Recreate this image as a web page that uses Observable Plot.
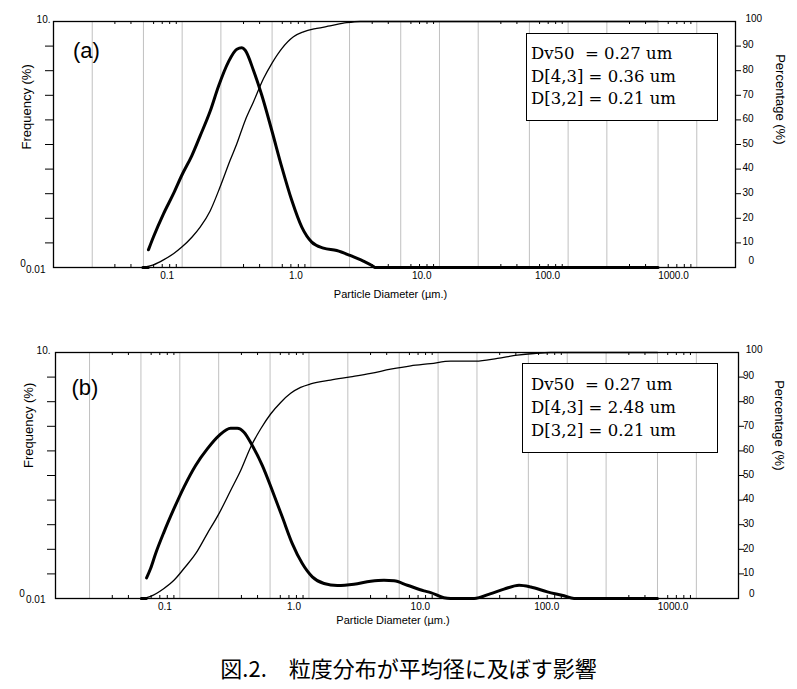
<!DOCTYPE html>
<html>
<head>
<meta charset="utf-8">
<script src="https://cdn.jsdelivr.net/npm/d3@7"></script>
<script src="https://cdn.jsdelivr.net/npm/@observablehq/plot@0.6"></script>
<style>
  body { margin: 0; background: #fff; }
  #fig { position: relative; width: 797px; height: 689px; overflow: hidden; font-family: "Liberation Sans", Arial, sans-serif; }
  .panel { position: absolute; left: 0; }
  .stats { position: absolute; box-sizing: border-box; border: 1px solid #000; background: #fff;
           font-family: "DejaVu Serif", serif; font-size: 16.5px; color: #000; white-space: pre; }
  #caption { position: absolute; width: 797px; text-align: center; white-space: pre; word-spacing: 6px;
             font-family: "Noto Sans CJK JP", sans-serif; font-size: 22px; line-height: 22px; color: #000; }
</style>
</head>
<body>
<div id="fig"></div>
<script>
// ---------- data ----------
// panel (a): frequency curve (%), particle diameter in µm; null = break in the line
const freqA_d = [0.0495, 0.0545, 0.0546, 0.0547, 0.0599, 0.0716, 0.0856, 0.0994, 0.119, 0.138, 0.165, 0.192, 0.229, 0.266, 0.291, 0.309, 0.358, 0.416, 0.497, 0.595, 0.711, 0.851, 1.017, 1.254, 1.59, 2.02, 2.56, 3.07, 3.15, 500];
const freqA_v = [0, 0, null, 0.72, 1.25, 2.18, 3.0, 3.75, 4.55, 5.35, 6.35, 7.38, 8.36, 8.87, 8.93, 8.83, 8.02, 7.0, 5.58, 4.08, 2.73, 1.64, 1.03, 0.79, 0.69, 0.49, 0.26, 0.04, 0, 0];
// panel (a): cumulative percentage (%)
const cumA_d = [0.0495, 0.0599, 0.0716, 0.0856, 0.0994, 0.119, 0.138, 0.165, 0.197, 0.236, 0.266, 0.309, 0.358, 0.429, 0.497, 0.595, 0.733, 0.876, 1.112, 1.41, 1.90, 2.42, 500];
const cumA_v = [0, 1.1, 3.1, 5.6, 8.3, 12.3, 16.4, 23.0, 32.7, 43.6, 50.3, 59.8, 67.3, 76.8, 82.9, 89.0, 93.8, 95.8, 97.2, 98.2, 99.5, 100, 100];

// panel (b): frequency curve (%)
const freqB_d = [0.0503, 0.0550, 0.0552, 0.0553, 0.0594, 0.0649, 0.0754, 0.0901, 0.1077, 0.1326, 0.1632, 0.201, 0.2475, 0.2787, 0.314, 0.364, 0.435, 0.520, 0.622, 0.743, 0.888, 1.062, 1.308, 1.659, 2.23, 3.01, 3.81, 4.56, 5.78, 7.78, 8.76, 11.1, 12.5, 19.0, 25.6, 32.4, 42.4, 52.2, 70.2, 94.5, 113, 500];
const freqB_v = [0, 0, null, 0.84, 1.22, 1.82, 2.70, 3.65, 4.53, 5.41, 6.08, 6.62, 6.92, 6.92, 6.76, 6.22, 5.41, 4.39, 3.31, 2.23, 1.42, 0.88, 0.61, 0.53, 0.58, 0.70, 0.74, 0.72, 0.54, 0.31, 0.24, 0.03, 0, 0, 0.2, 0.38, 0.54, 0.47, 0.27, 0.11, 0, 0];
// panel (b): cumulative percentage (%)
const cumB_d = [0.0503, 0.0594, 0.0754, 0.0901, 0.1077, 0.1326, 0.1632, 0.201, 0.2475, 0.296, 0.3535, 0.4225, 0.505, 0.604, 0.722, 0.862, 1.031, 1.47, 2.10, 3.01, 4.29, 6.14, 8.76, 12.5, 19.6, 28.8, 41.1, 55.3, 74.5, 500];
const cumB_v = [0, 0.9, 4.1, 7.4, 12.2, 18.2, 26.4, 34.5, 43.9, 52.0, 61.5, 68.9, 75.0, 79.7, 83.4, 85.8, 87.2, 88.8, 90.1, 91.5, 93.2, 94.6, 95.5, 96.5, 96.5, 97.6, 98.9, 99.6, 100, 100];

// axes
const gridDiam = [0.02, 0.05, 0.1, 0.2, 0.5, 1, 2, 5, 10, 20, 50, 100, 200, 500, 1000];
const minorDiam = [0.03, 0.04, 0.06, 0.07, 0.08, 0.09, 0.3, 0.4, 0.6, 0.7, 0.8, 0.9, 3, 4, 6, 7, 8, 9, 30, 40, 60, 70, 80, 90, 300, 400, 600, 700, 800, 900];
const xTickVals = [0.01, 0.1, 1, 10, 100, 1000];
const xTickLabels = ["0.01", "0.1", "1.0", "10.0", "100.0", "1000.0"];
const freqTicks = [1, 2, 3, 4, 5, 6, 7, 8, 9];
const freqEndLabels = ["0", "10."];
const pctTicks = [10, 20, 30, 40, 50, 60, 70, 80, 90];
const pctEndLabels = ["0", "100"];

// texts
const panelLabels = ["(a)", "(b)"];
const xTitle = "Particle Diameter (µm.)";
const yTitleLeft = "Frequency (%)";
const yTitleRight = "Percentage (%)";
const statNames = ["Dv50 ", "D[4,3]", "D[3,2]"];
const statsA = [0.27, 0.36, 0.21];
const statsB = [0.27, 2.48, 0.21];
const statUnit = "um";
const caption = "図.2.  粒度分布が平均径に及ぼす影響";

// ---------- drawing ----------
const W = 797, H = 310;
const fig = document.getElementById("fig");

function rows(ds, vs) { return ds.map((d, i) => ({ d, v: vs[i] })); }

function panel(cfg) {
  const plotH = H - cfg.mt - cfg.mb;
  const freq = rows(cfg.freqD, cfg.freqV);
  const cum = rows(cfg.cumD, cfg.cumV);
  const svg = Plot.plot({
    width: W, height: H,
    marginTop: cfg.mt, marginBottom: cfg.mb, marginLeft: cfg.ml, marginRight: cfg.mr,
    style: { fontFamily: "'Liberation Sans', Arial, sans-serif", fontSize: "10px", color: "#000", background: "transparent", overflow: "visible" },
    x: { type: "log", domain: cfg.domain, axis: null },
    y: { domain: [0, 10], axis: null },
    marks: [
      Plot.ruleX(gridDiam, { x: d => d, stroke: "#c0c0c0", strokeWidth: 1 }),
      Plot.tickX(minorDiam, { x: d => d, insetTop: plotH - 3, stroke: "#000" }),
      Plot.tickX(minorDiam, { x: d => d, insetBottom: plotH - 3, stroke: "#000" }),
      Plot.line(cum, { x: "d", y: r => (r.v == null ? NaN : r.v / 10), stroke: "#000", strokeWidth: 1.3, curve: "monotone-x" }),
      Plot.line(freq, { x: "d", y: r => (r.v == null ? NaN : r.v), stroke: "#000", strokeWidth: 3, curve: "monotone-x" }),
      Plot.frame({ stroke: "#000", strokeWidth: 1.3 }),
      // left ticks (no labels) and end labels
      Plot.axisY({ anchor: "left", ticks: freqTicks, tickSize: 8, tickFormat: () => "", label: null }),
      Plot.text([freqEndLabels[1]], { frameAnchor: "top-left", text: d => d, textAnchor: "end", lineAnchor: "middle", dx: cfg.topLbl[0], dy: cfg.topLbl[1], fontSize: 10 }),
      Plot.text([freqEndLabels[0]], { frameAnchor: "bottom-left", text: d => d, textAnchor: "middle", lineAnchor: "middle", dx: cfg.zeroLbl[0], dy: cfg.zeroLbl[1], fontSize: 10 }),
      // right ticks + labels
      Plot.axisY({ anchor: "right", ticks: pctTicks.map(p => p / 10), tickSize: 5, tickFormat: () => "", label: null }),
      Plot.text(pctTicks, { y: p => p / 10, frameAnchor: "right", text: p => String(p), textAnchor: "start", lineAnchor: "middle", dx: cfg.pctDx, dy: -1, fontSize: 10 }),
      Plot.text([pctEndLabels[1]], { frameAnchor: "top-right", text: d => d, textAnchor: "start", lineAnchor: "middle", dx: cfg.p100[0], dy: cfg.p100[1], fontSize: 10 }),
      Plot.text([pctEndLabels[0]], { frameAnchor: "bottom-right", text: d => d, textAnchor: "start", lineAnchor: "middle", dx: cfg.p0[0], dy: cfg.p0[1], fontSize: 10 }),
      // x tick labels (first one sits a bit higher in the reference)
      Plot.text(xTickVals.slice(1), { x: d => d, frameAnchor: "bottom", text: (d, i) => xTickLabels[i + 1], textAnchor: "end", lineAnchor: "middle", dx: -8, dy: 8, fontSize: 10 }),
      Plot.text([xTickLabels[0]], { frameAnchor: "bottom-left", text: d => d, textAnchor: "end", lineAnchor: "middle", dx: cfg.first[0], dy: cfg.first[1], fontSize: 10 }),
      // titles
      Plot.text([xTitle], { frameAnchor: "bottom", text: d => d, lineAnchor: "middle", dx: cfg.xTitle[0], dy: cfg.xTitle[1], fontSize: 11 }),
      Plot.text([yTitleLeft], { frameAnchor: "left", text: d => d, rotate: -90, lineAnchor: "middle", dx: cfg.yLeft[0], dy: cfg.yLeft[1], fontSize: 13 }),
      Plot.text([yTitleRight], { frameAnchor: "right", text: d => d, rotate: 90, lineAnchor: "middle", dx: cfg.yRight[0], dy: cfg.yRight[1], fontSize: 13 }),
      Plot.text([cfg.label], { frameAnchor: "top-left", text: d => d, textAnchor: "start", lineAnchor: "middle", dx: cfg.lbl[0], dy: cfg.lbl[1], fontSize: 22 })
    ]
  });
  svg.classList.add("panel");
  svg.style.top = cfg.top + "px";
  fig.appendChild(svg);

  const box = document.createElement("div");
  box.className = "stats";
  Object.assign(box.style, {
    left: cfg.box[0] + "px", top: (cfg.top + cfg.box[1]) + "px",
    width: cfg.box[2] + "px", height: cfg.box[3] + "px",
    paddingLeft: cfg.boxPad[0] + "px", paddingTop: cfg.boxPad[1] + "px",
    lineHeight: cfg.boxLine + "px"
  });
  box.textContent = statNames.map((n, i) => `${n} = ${cfg.stats[i].toFixed(2)} ${statUnit}`).join("\n");
  fig.appendChild(box);
}

panel({
  top: 0, mt: 21, mb: 43, ml: 53, mr: 62, domain: [0.01, 2000],
  freqD: freqA_d, freqV: freqA_v, cumD: cumA_d, cumV: cumA_v,
  label: panelLabels[0], lbl: [19.5, 29],
  topLbl: [-3, -2], zeroLbl: [-30.5, -4], first: [-8, 2],
  pctDx: 7, p100: [10, -2.3], p0: [13, -6.5],
  xTitle: [-4, 27], yLeft: [-26.3, 5], yRight: [45, 0],
  box: [526, 33, 192, 88], boxPad: [4, 9], boxLine: 22.5, stats: statsA
});
panel({
  top: 331, mt: 21, mb: 43, ml: 55, mr: 59, domain: [0.0109, 2120],
  freqD: freqB_d, freqV: freqB_v, cumD: cumB_d, cumV: cumB_v,
  label: panelLabels[1], lbl: [16, 35.5],
  topLbl: [-5, -1.3], zeroLbl: [-33.5, -5], first: [-10, 1],
  pctDx: 4.5, p100: [7.3, -2.3], p0: [10.5, -5],
  xTitle: [-4, 22], yLeft: [-27, -7.5], yRight: [40.6, -5],
  box: [522, 32, 196, 90], boxPad: [8, 9], boxLine: 23.2, stats: statsB
});

const cap = document.createElement("div");
cap.id = "caption";
cap.style.top = "656px";
cap.style.left = "10px";
cap.textContent = caption;
fig.appendChild(cap);
</script>
</body>
</html>
